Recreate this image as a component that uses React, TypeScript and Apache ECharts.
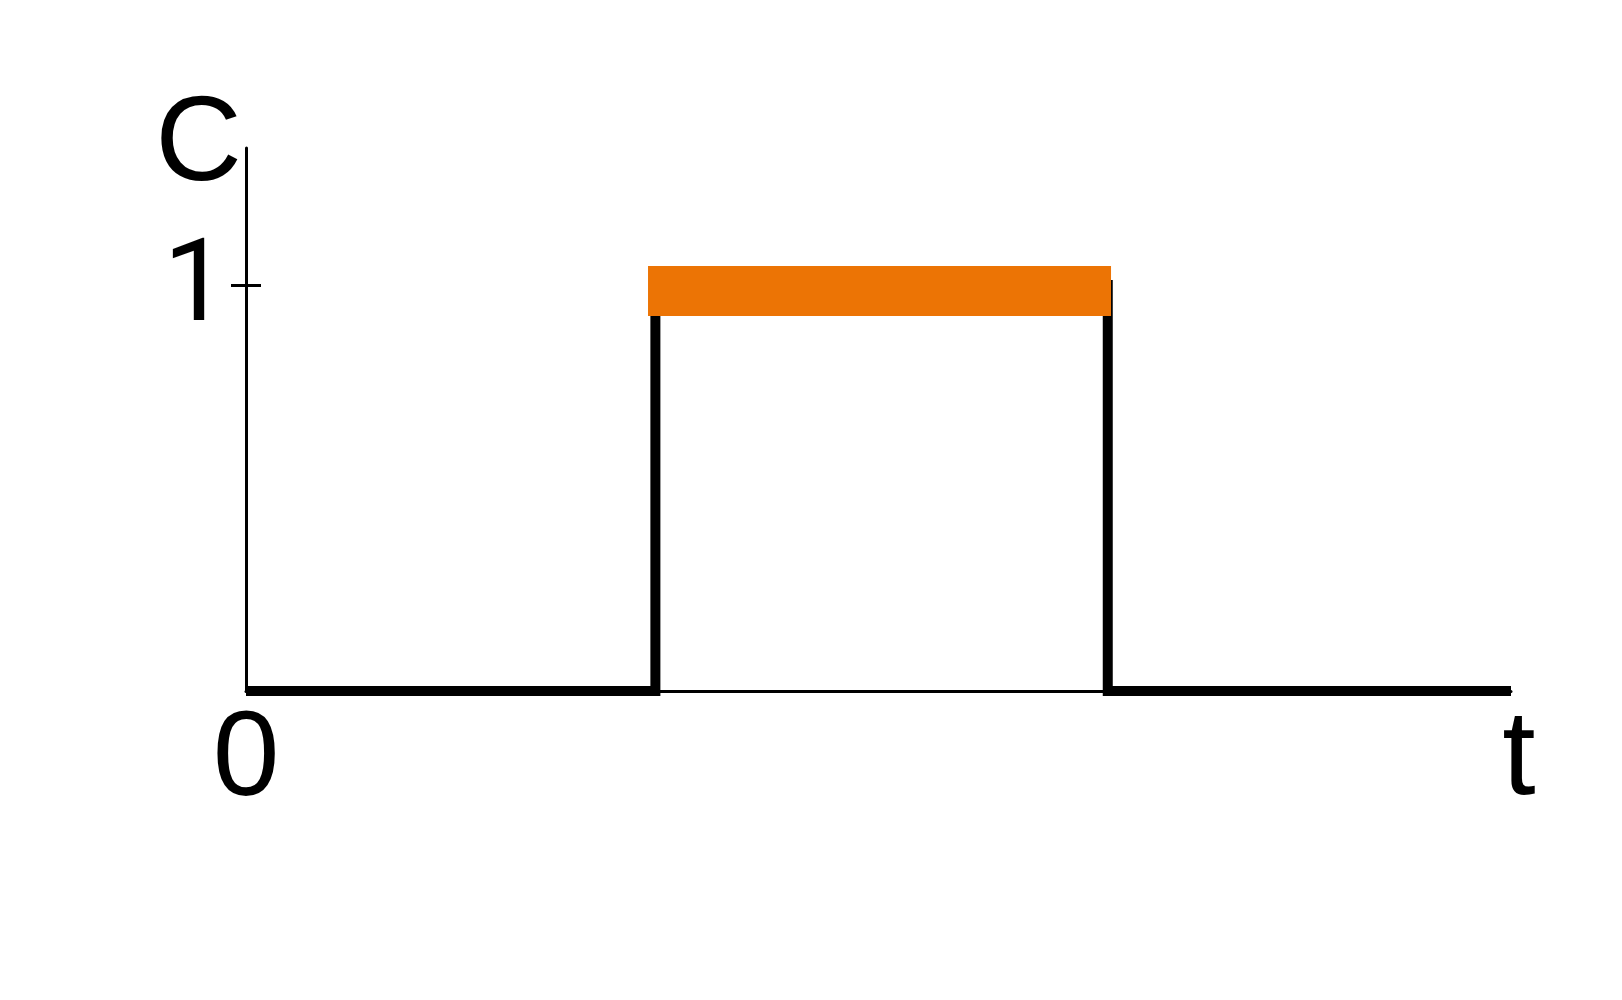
import React, { useEffect, useRef } from "react";
import * as echarts from "echarts";

// Step signal C(t): 0 until t1, 1 until t2, then 0 again
const stepT = [0, 1, 1, 2.105, 2.105, 3.09];
const stepC = [0, 0, 1, 1, 0, 0];
// Orange highlighted plateau
const plateauT = [0.982, 2.113];
const plateauC = [0.985, 0.985];
const yTicks = [1];
const xLabelValues = [0];
const xMax = 3.09;
const yMax = 1.3374;

export default function App() {
  const ref = useRef<HTMLDivElement>(null);
  useEffect(() => {
    if (!ref.current) return;
    const chart = echarts.init(ref.current, undefined, { renderer: "svg" });
    const font = "'Liberation Sans', Arial, sans-serif";
    const size = 120;
    chart.setOption({
      animation: false,
      backgroundColor: "#ffffff",
      grid: { left: 246, right: 111, top: 148, bottom: 309, containLabel: false },
      xAxis: {
        type: "value",
        min: 0,
        max: xMax,
        interval: 10,
        name: "t",
        nameLocation: "end",
        nameGap: 8,
        nameTextStyle: {
          fontFamily: font,
          fontSize: size,
          color: "#000",
          align: "center",
          verticalAlign: "top",
          padding: [1, 0, 0, 0],
        },
        axisLine: { show: true, onZero: false, lineStyle: { color: "#000", width: 3 } },
        axisTick: { show: false },
        splitLine: { show: false },
        axisLabel: {
          show: true,
          margin: 2,
          fontFamily: font,
          fontSize: size,
          color: "#000",
          formatter: (v: number) => (xLabelValues.includes(v) ? String(v) : ""),
        },
      },
      yAxis: [
        {
          type: "value",
          min: 0,
          max: yMax,
          interval: 1,
          name: "C",
          nameLocation: "end",
          nameGap: 10,
          nameTextStyle: {
            fontFamily: font,
            fontSize: size,
            color: "#000",
            align: "right",
            verticalAlign: "middle",
            padding: [0, 4, 0, 0],
          },
          axisLine: { show: true, onZero: false, lineStyle: { color: "#000", width: 3 } },
          axisTick: {
            show: true,
            inside: false,
            length: 15,
            customValues: yTicks,
            lineStyle: { color: "#000", width: 3 },
          },
          splitLine: { show: false },
          axisLabel: {
            show: true,
            margin: 18,
            fontFamily: "Roboto, 'Liberation Sans', sans-serif",
            fontSize: 115,
            color: "#000",
            verticalAlign: "bottom",
            lineHeight: 9,
            customValues: yTicks,
            formatter: (v: number) => (yTicks.includes(v) ? String(v) : ""),
          },
        },
        {
          type: "value",
          min: 0,
          max: yMax,
          interval: 1,
          position: "left",
          offset: 0,
          axisLine: { show: false },
          axisTick: {
            show: true,
            inside: true,
            length: 15,
            customValues: yTicks,
            lineStyle: { color: "#000", width: 3 },
          },
          splitLine: { show: false },
          axisLabel: { show: false },
        },
      ],
      series: [
        {
          type: "line",
          yAxisIndex: 0,
          data: stepT.map((t, i) => [t, stepC[i]]),
          showSymbol: false,
          symbol: "none",
          clip: false,
          lineStyle: { color: "#000", width: 10, cap: "butt", join: "miter" },
        },
        {
          type: "line",
          yAxisIndex: 0,
          data: plateauT.map((t, i) => [t, plateauC[i]]),
          showSymbol: false,
          symbol: "none",
          clip: false,
          lineStyle: { color: "#ec7405", width: 50, cap: "butt" },
        },
      ],
    });
    return () => chart.dispose();
  }, []);
  return (
    <div
      ref={ref}
      style={{ position: "fixed", left: 0, top: 0, width: 1622, height: 1000 }}
    />
  );
}
